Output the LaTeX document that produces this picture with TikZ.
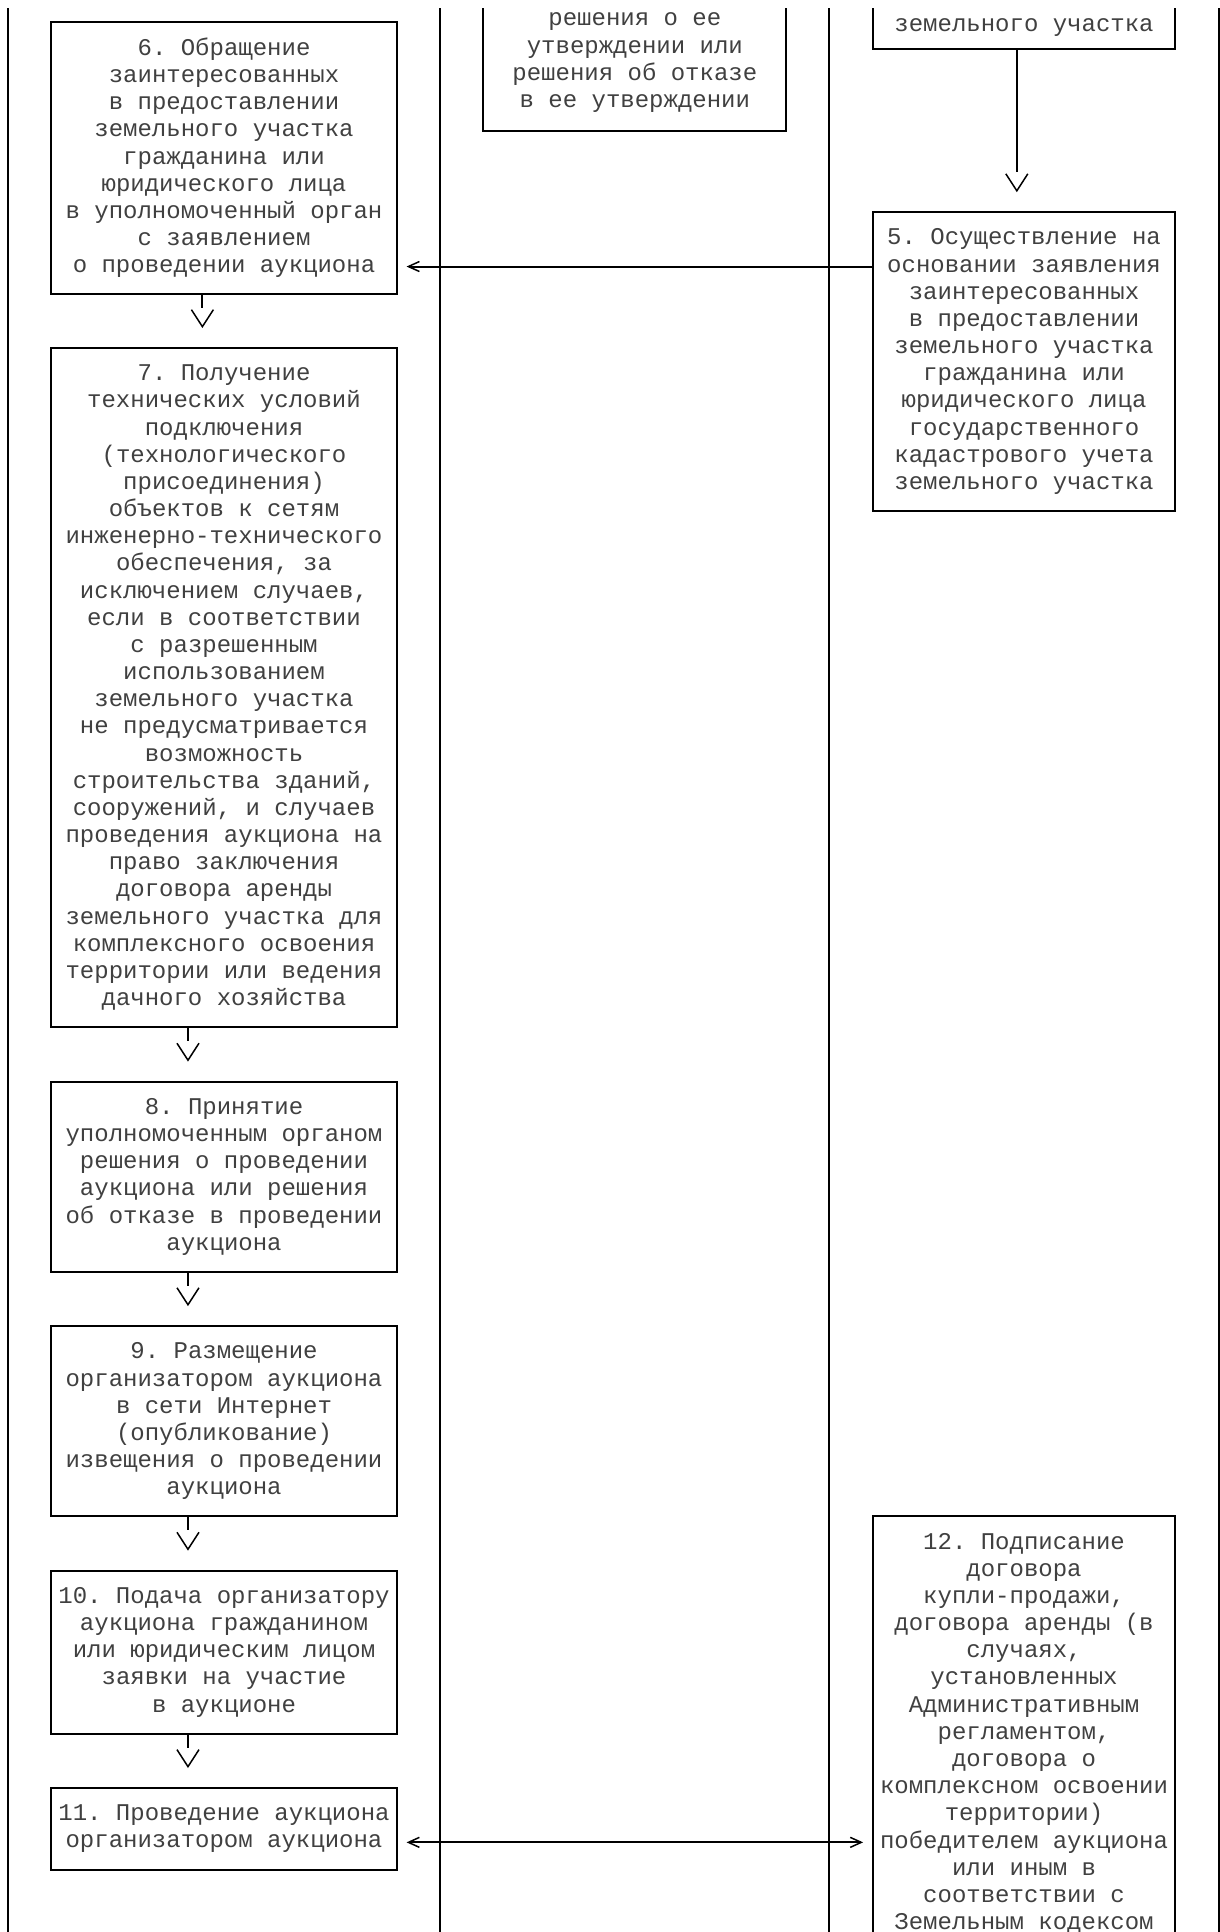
\documentclass[tikz,border=0pt]{standalone}
\usepackage{fontspec}
\setmonofont{Liberation Mono}
\usetikzlibrary{arrows.meta}
\newcommand{\colw}{7.2075pt}
\newcommand{\rowh}{13.585pt}
\tikzstyle{stage}=[draw, line width=1pt, inner sep=0pt, align=center, text=black!75, font=\ttfamily\fontsize{12pt}{13.585pt}\selectfont, execute at begin node={\rule{0pt}{11.5pt}}, execute at end node={\rule[-2.08pt]{0pt}{0pt}}]
\tikzstyle{wide}=[stage, minimum width=24*\colw]
\tikzstyle{slim}=[stage, minimum width=21*\colw]
\tikzstyle{lane}=[draw, line width=1pt]
\tikzstyle{flow}=[draw, line width=1pt, dash pattern=on 6.5pt off 60pt, shorten >=9.5pt, -{Straight Barb[length=8.5pt, width=11pt, line width=0.75pt]}]
\tikzstyle{longflow}=[flow, dash pattern=on 61pt off 60pt]
\tikzstyle{link}=[draw, line width=1pt, shorten >=4.3pt, -{Straight Barb[length=5.5pt, width=5pt, line width=0.75pt]}]
\tikzstyle{twoway}=[link, shorten <=4.3pt, {Straight Barb[length=5.5pt, width=5pt, line width=0.75pt]}-{Straight Barb[length=5.5pt, width=5pt, line width=0.75pt]}]

\begin{document}
\begin{tikzpicture}[x=\colw, y=-\rowh]

	\useasboundingbox (-0.541,-0.81) rectangle (84.09,70.3);
	\begin{scope}
	\clip (-0.541,-0.5) rectangle (84.09,70.3);

	% columns
	\foreach \c in {0, 30, 57, 84}{
		\draw[lane] (\c,-0.5) -- (\c,70.5);
	}

	% tops cut by the page
	\node[slim, minimum height=5*\rowh] (b3) at (43.5,1.5) {решения о ее\\утверждении или\\решения об отказе\\в ее утверждении};
	\node[slim, minimum height=2*\rowh] (b4) at (70.5,0) {земельного участка};

	\node[wide, minimum height=10*\rowh] (b6) at (15,5) {6. Обращение\\заинтересованных\\в предоставлении\\земельного участка\\гражданина или\\юридического лица\\в уполномоченный орган\\с заявлением\\о проведении аукциона};
	\node[slim, minimum height=11*\rowh] (b5) at (70.5,12.5) {5. Осуществление на\\основании заявления\\заинтересованных\\в предоставлении\\земельного участка\\гражданина или\\юридического лица\\государственного\\кадастрового учета\\земельного участка};

	\node[wide, minimum height=25*\rowh] (b7) at (15,24.5) {7. Получение\\технических условий\\подключения\\(технологического\\присоединения)\\объектов к сетям\\инженерно-технического\\обеспечения, за\\исключением случаев,\\если в соответствии\\с разрешенным\\использованием\\земельного участка\\не предусматривается\\возможность\\строительства зданий,\\сооружений, и случаев\\проведения аукциона на\\право заключения\\договора аренды\\земельного участка для\\комплексного освоения\\территории или ведения\\дачного хозяйства};
	\node[wide, minimum height=7*\rowh] (b8) at (15,42.5) {8. Принятие\\уполномоченным органом\\решения о проведении\\аукциона или решения\\об отказе в проведении\\аукциона};
	\node[wide, minimum height=7*\rowh] (b9) at (15,51.5) {9. Размещение\\организатором аукциона\\в сети Интернет\\(опубликование)\\извещения о проведении\\аукциона};
	\node[wide, minimum height=6*\rowh] (b10) at (15,60) {10. Подача организатору\\аукциона гражданином\\или юридическим лицом\\заявки на участие\\в аукционе};
	\node[wide, minimum height=3*\rowh] (b11) at (15,66.5) {11. Проведение аукциона\\организатором аукциона};
	\node[slim, minimum height=16*\rowh] (b12) at (70.5,63) {12. Подписание\\договора\\купли-продажи,\\договора аренды (в\\случаях,\\установленных\\Административным\\регламентом,\\договора о\\комплексном освоении\\территории)\\победителем аукциона\\или иным в\\соответствии с\\Земельным кодексом};

	\draw[longflow] (b4.south -| 70,0) -- (b5.north -| 70,0);
	\draw[flow] (b6.south -| 13.5,0) -- (b7.north -| 13.5,0);
	\foreach \source/\target in {b7/b8, b8/b9, b9/b10, b10/b11}{
		\draw[flow] (\source.south -| 12.5,0) -- (\target.north -| 12.5,0);
	}

	\draw[link] (b5.west |- 0,9) -- (b6.east |- 0,9);
	\draw[twoway] (b11.east |- 0,67) -- (b12.west |- 0,67);
	\end{scope}
\end{tikzpicture}
\end{document}
